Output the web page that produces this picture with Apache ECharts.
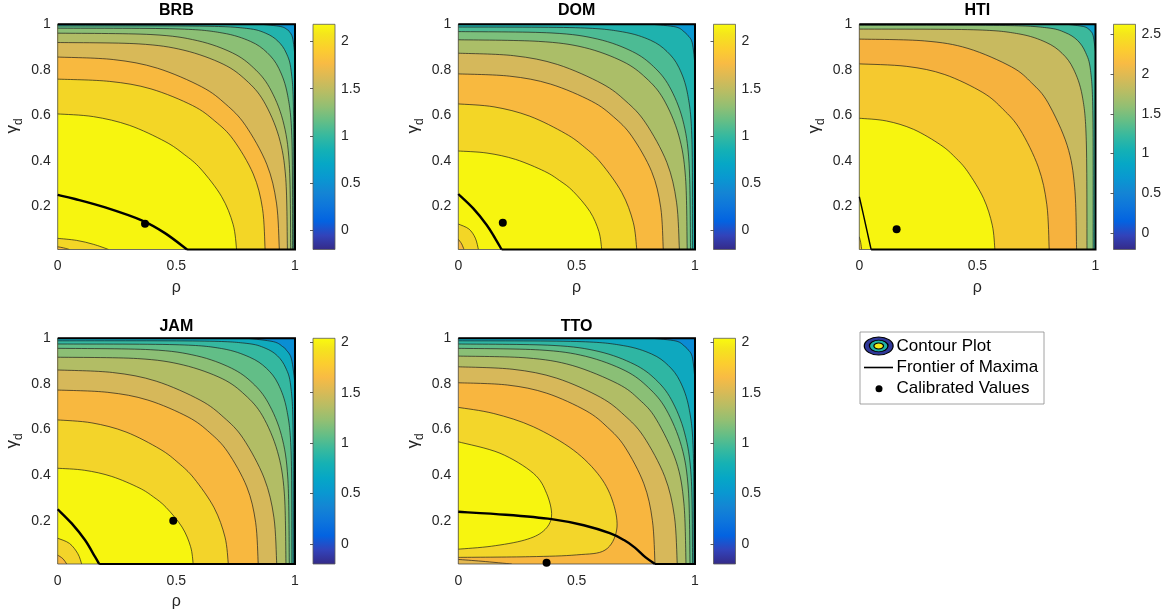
<!DOCTYPE html>
<html><head><meta charset="utf-8">
<script src="https://cdn.jsdelivr.net/npm/echarts@6/dist/echarts.min.js"></script>
<style>html,body{margin:0;padding:0;background:#fff}#c{width:1168px;height:611px}</style>
</head><body><div id="c"></div>
<script>
// ================= DATA =================
const countries = ['BRB', 'DOM', 'HTI', 'JAM', 'TTO'];
const xTicks = [0, 0.5, 1];
const yTicks = [0.2, 0.4, 0.6, 0.8, 1];
const Y_MIN = 0.01;
const cbarTicks = [0, 0.5, 1, 1.5, 2];
const cbarTicksHTI = [0, 0.5, 1, 1.5, 2, 2.5];
const cbarMin = [-0.2, -0.2, -0.21, -0.2, -0.2];
const cbarMax = [2.18, 2.18, 2.63, 2.04, 2.04];

// contour lines (rho, gamma_d); lower values toward (1,1)
const brbCurves = [
  [[0,0.606],[0.151,0.594],[0.302,0.556],[0.452,0.485],[0.533,0.428],[0.603,0.364],[0.691,0.242],[0.739,0.121],[0.754,0.01]],
  [[0,0.759],[0.219,0.749],[0.393,0.716],[0.568,0.643],[0.662,0.575],[0.74,0.493],[0.824,0.342],[0.863,0.19],[0.874,0.01]],
  [[0,0.856],[0.234,0.845],[0.42,0.807],[0.607,0.725],[0.708,0.649],[0.791,0.556],[0.881,0.385],[0.922,0.214],[0.934,0.01]],
  [[0,0.92],[0.339,0.914],[0.532,0.886],[0.697,0.825],[0.794,0.754],[0.868,0.662],[0.932,0.506],[0.961,0.322],[0.968,0.01]],
  [[0,0.961],[0.393,0.955],[0.589,0.928],[0.737,0.874],[0.826,0.808],[0.893,0.721],[0.949,0.577],[0.976,0.384],[0.982,0.01]],
  [[0,0.983],[0.495,0.98],[0.693,0.962],[0.812,0.925],[0.882,0.876],[0.932,0.806],[0.969,0.688],[0.987,0.492],[0.99,0.01]],
  [[0,0.993],[0.597,0.992],[0.796,0.982],[0.876,0.961],[0.928,0.926],[0.963,0.874],[0.984,0.794],[0.994,0.596],[0.995,0.01]]
];
const brbCorner = [
  [[0.86,1],[0.94,0.99],[0.968,0.976],[0.976,0.968],[0.99,0.94],[1,0.86]]
];
const brbOrigin = [
  [[0,0.059],[0.08,0.05],[0.15,0.033],[0.215,0.01]],
  [[0,0.022],[0.025,0.017],[0.05,0.01]]
];
const brbFrontier = [[0,0.25],[0.073,0.232],[0.2,0.195],[0.354,0.138],[0.452,0.082],[0.545,0.01]];
const brbPoint = [0.368, 0.123];

const domCurves = [
  [[0,0.443],[0.121,0.434],[0.242,0.406],[0.364,0.354],[0.428,0.313],[0.485,0.266],[0.556,0.177],[0.594,0.089],[0.606,0.01]],
  [[0,0.65],[0.151,0.637],[0.302,0.596],[0.452,0.52],[0.533,0.46],[0.603,0.39],[0.691,0.26],[0.739,0.13],[0.754,0.01]],
  [[0,0.782],[0.217,0.772],[0.39,0.737],[0.563,0.662],[0.656,0.593],[0.733,0.508],[0.817,0.352],[0.855,0.196],[0.866,0.01]],
  [[0,0.873],[0.234,0.862],[0.42,0.823],[0.607,0.739],[0.708,0.662],[0.791,0.567],[0.881,0.393],[0.922,0.218],[0.934,0.01]],
  [[0,0.932],[0.338,0.925],[0.532,0.898],[0.696,0.836],[0.793,0.764],[0.867,0.671],[0.931,0.513],[0.96,0.326],[0.967,0.01]],
  [[0,0.968],[0.392,0.962],[0.589,0.935],[0.736,0.88],[0.825,0.814],[0.892,0.726],[0.948,0.581],[0.975,0.387],[0.981,0.01]],
  [[0,0.988],[0.495,0.985],[0.693,0.967],[0.812,0.93],[0.882,0.88],[0.932,0.81],[0.969,0.692],[0.987,0.494],[0.99,0.01]]
];
const domCorner = [
  [[0.82,1],[0.92,0.988],[0.955,0.966],[0.966,0.955],[0.988,0.92],[1,0.82]]
];
const domOrigin = [
  [[0,0.122],[0.045,0.1],[0.072,0.06],[0.085,0.01]],
  [[0,0.055],[0.014,0.035],[0.024,0.01]]
];
const domFrontier = [[0,0.254],[0.063,0.191],[0.12,0.118],[0.155,0.06],[0.183,0.01]];
const domPoint = [0.188, 0.128];

const htiCurves = [
  [[0,0.587],[0.115,0.575],[0.23,0.538],[0.344,0.47],[0.406,0.415],[0.459,0.352],[0.526,0.235],[0.563,0.117],[0.574,0.01]],
  [[0,0.826],[0.201,0.815],[0.362,0.779],[0.523,0.70],[0.609,0.626],[0.681,0.537],[0.758,0.372],[0.794,0.207],[0.804,0.01]],
  [[0,0.935],[0.276,0.927],[0.46,0.894],[0.644,0.813],[0.73,0.742],[0.799,0.655],[0.88,0.468],[0.912,0.281],[0.92,0.01]],
  [[0,0.979],[0.482,0.976],[0.675,0.958],[0.79,0.921],[0.859,0.872],[0.907,0.803],[0.944,0.685],[0.961,0.488],[0.964,0.01]],
  [[0,0.996],[0.594,0.995],[0.792,0.985],[0.871,0.964],[0.924,0.929],[0.958,0.876],[0.979,0.797],[0.989,0.597],[0.99,0.01]]
];
const htiCorner = [
  [[0.88,1],[0.95,0.99],[0.972,0.978],[0.978,0.972],[0.99,0.95],[1,0.88]]
];
const htiOrigin = [
  [[0,0.066],[0.006,0.04],[0.01,0.01]]
];
const htiFrontier = [[0,0.242],[0.018,0.16],[0.034,0.085],[0.05,0.01]];
const htiPoint = [0.158, 0.099];

const jamCurves = [
  [[0,0.43],[0.114,0.421],[0.228,0.394],[0.343,0.344],[0.404,0.304],[0.457,0.258],[0.524,0.172],[0.56,0.086],[0.571,0.01]],
  [[0,0.642],[0.144,0.629],[0.288,0.589],[0.431,0.514],[0.508,0.454],[0.575,0.385],[0.659,0.257],[0.705,0.128],[0.719,0.01]],
  [[0,0.773],[0.211,0.763],[0.38,0.729],[0.549,0.655],[0.641,0.586],[0.716,0.502],[0.797,0.348],[0.834,0.193],[0.845,0.01]],
  [[0,0.861],[0.231,0.85],[0.415,0.812],[0.6,0.729],[0.70,0.653],[0.782,0.56],[0.87,0.387],[0.911,0.215],[0.923,0.01]],
  [[0,0.917],[0.337,0.911],[0.529,0.883],[0.693,0.823],[0.789,0.752],[0.863,0.66],[0.926,0.504],[0.955,0.321],[0.962,0.01]],
  [[0,0.956],[0.39,0.95],[0.586,0.923],[0.732,0.869],[0.821,0.804],[0.887,0.717],[0.943,0.574],[0.97,0.382],[0.976,0.01]],
  [[0,0.975],[0.494,0.972],[0.691,0.955],[0.809,0.917],[0.879,0.869],[0.929,0.80],[0.966,0.683],[0.984,0.488],[0.987,0.01]],
  [[0,0.989],[0.596,0.988],[0.794,0.978],[0.874,0.957],[0.926,0.923],[0.961,0.87],[0.982,0.791],[0.992,0.593],[0.993,0.01]]
];
const jamCorner = [
  [[0.8,1],[0.91,0.985],[0.95,0.962],[0.962,0.95],[0.985,0.91],[1,0.8]]
];
const jamOrigin = [
  [[0,0.123],[0.05,0.1],[0.085,0.055],[0.101,0.01]],
  [[0,0.049],[0.022,0.033],[0.038,0.01]]
];
const jamFrontier = [[0,0.25],[0.059,0.188],[0.115,0.115],[0.157,0.042],[0.175,0.01]];
const jamPoint = [0.487, 0.2];

const ttoCurves = [
  [[0,0.805],[0.208,0.795],[0.374,0.759],[0.54,0.682],[0.63,0.61],[0.704,0.523],[0.784,0.362],[0.82,0.201],[0.831,0.01]],
  [[0,0.875],[0.231,0.864],[0.416,0.825],[0.601,0.741],[0.701,0.663],[0.783,0.569],[0.872,0.394],[0.913,0.219],[0.925,0.01]],
  [[0,0.922],[0.289,0.914],[0.481,0.881],[0.673,0.801],[0.764,0.732],[0.836,0.645],[0.92,0.461],[0.953,0.277],[0.962,0.01]],
  [[0,0.956],[0.343,0.949],[0.538,0.921],[0.705,0.858],[0.803,0.784],[0.878,0.688],[0.943,0.526],[0.972,0.335],[0.979,0.01]],
  [[0,0.975],[0.396,0.969],[0.594,0.942],[0.743,0.886],[0.833,0.82],[0.90,0.731],[0.956,0.585],[0.984,0.39],[0.99,0.01]],
  [[0,0.989],[0.498,0.986],[0.697,0.968],[0.817,0.931],[0.887,0.881],[0.937,0.811],[0.975,0.692],[0.993,0.495],[0.996,0.01]]
];
const ttoCorner = [
  [[0.82,1],[0.92,0.988],[0.955,0.966],[0.966,0.955],[0.988,0.92],[1,0.82]]
];
// closed lobes against the left edge (higher values inside)
const ttoLobes = [
  [[0,0.697],[0.15,0.67],[0.317,0.612],[0.486,0.51],[0.599,0.393],[0.655,0.276],[0.669,0.159],[0.62,0.071],[0.5,0.05],[0.3,0.042],[0,0.039]],
  [[0,0.546],[0.176,0.496],[0.317,0.408],[0.373,0.32],[0.394,0.22],[0.36,0.155],[0.28,0.115],[0.14,0.088],[0,0.075]]
];
const ttoOrigin = [
  [[0,0.03],[0.1,0.022],[0.226,0.01]]
];
const ttoFrontier = [[0,0.239],[0.2,0.226],[0.394,0.207],[0.53,0.18],[0.64,0.145],[0.70,0.115],[0.746,0.082],[0.79,0.04],[0.831,0.01]];
const ttoPoint = [0.373, 0.016];

const legendLabels = ['Contour Plot', 'Frontier of Maxima', 'Calibrated Values'];

// ================= STYLE / LAYOUT =================
const FONT = '"Liberation Sans", Arial, Helvetica, sans-serif';
const TXT = '#262626';
const PARULA = ['#352a87','#3243ba','#0363e1','#0d75dc','#1485d4','#0998d1','#06a7c6','#15b1b4','#38b99e','#65be86','#92bf73','#b7bd64','#d9ba56','#f8bb44','#fcce2e','#f5e41d','#f9fb0e'];
const PARULA_IDX = [0,4,8,12,16,20,24,28,32,36,40,44,48,52,56,60,63];

const plotLeft = [57.7, 458.3, 859.3, 57.7, 458.3];
const plotTop = [24.3, 24.3, 24.3, 338.3, 338.3];
const plotW = [237.3, 236.7, 236.2, 237.3, 236.7];
const plotH = [225.2, 225.2, 225.2, 225.7, 225.7];
const cbarLeft = [313, 713.5, 1113.5, 313, 713.5];
const cbarW = 22;

const YEL = '#f7f50f';
const baseFill = [YEL, YEL, YEL, YEL, '#f8b63f'];
const curveFill = [
  ['#f3d626','#f8b93f','#d8b958','#b1bd66','#8cbf75','#5fbd88','#22b3ad'],
  ['#f3d626','#f8b93f','#d5b85b','#abbe68','#7cc07c','#4cbb94','#1fb2ae'],
  ['#f5c92f','#f6b23e','#c8ba5f','#8fc074','#3cb99c'],
  ['#f3d42a','#f8b83f','#d6b85a','#b2bd65','#8cbf75','#62be87','#35b8a0','#10aabc'],
  ['#d7b85a','#b1bd66','#8abf76','#5ebd88','#2fb6a3','#0ea8bf']
];
const cornerFill = [['#0b97d2'], ['#0a98d1'], ['#0ea2c9'], ['#0a8ed4'], ['#0b8bd5']];
const originFill = [['#f3d626','#f8b93f'], ['#f3d626','#f8b93f'], ['#f5c92f'], ['#f3d42a','#f8b83f'], ['#e4b850']];
const lobeFill = [[], [], [], [], ['#f3d62a', YEL]];
const frontierWidth = [2.4, 2.4, 1.4, 2.4, 2.4];

const curvesAll = [brbCurves, domCurves, htiCurves, jamCurves, ttoCurves];
const cornerAll = [brbCorner, domCorner, htiCorner, jamCorner, ttoCorner];
const originAll = [brbOrigin, domOrigin, htiOrigin, jamOrigin, ttoOrigin];
const lobesAll = [[], [], [], [], ttoLobes];
const frontierAll = [brbFrontier, domFrontier, htiFrontier, jamFrontier, ttoFrontier];
const pointAll = [brbPoint, domPoint, htiPoint, jamPoint, ttoPoint];

function f(v) { return v.toFixed(2); }
function splinePath(P) {
  let d = 'M' + f(P[0][0]) + ' ' + f(P[0][1]);
  for (let i = 0; i < P.length - 1; i++) {
    const p0 = P[i - 1] || P[i], p1 = P[i], p2 = P[i + 1], p3 = P[i + 2] || P[i + 1];
    const c1x = p1[0] + (p2[0] - p0[0]) / 6, c1y = p1[1] + (p2[1] - p0[1]) / 6;
    const c2x = p2[0] - (p3[0] - p1[0]) / 6, c2y = p2[1] - (p3[1] - p1[1]) / 6;
    d += ' C' + f(c1x) + ' ' + f(c1y) + ' ' + f(c2x) + ' ' + f(c2y) + ' ' + f(p2[0]) + ' ' + f(p2[1]);
  }
  return d;
}

function buildItems(k) {
  const list = [{ kind: 'base', fill: baseFill[k] }];
  curvesAll[k].forEach((c, i) => list.push({ kind: 'tr', pts: c, fill: curveFill[k][i] }));
  cornerAll[k].forEach((c, i) => list.push({ kind: 'c', pts: c, fill: cornerFill[k][i] }));
  lobesAll[k].forEach((c, i) => list.push({ kind: 'l', pts: c, fill: lobeFill[k][i] }));
  originAll[k].forEach((c, i) => list.push({ kind: 'bl', pts: c, fill: originFill[k][i] }));
  return list;
}

function contourRenderer(items) {
  return function (params, api) {
    const it = items[params.dataIndex];
    const cs = params.coordSys;
    if (it.kind === 'base') {
      return { type: 'rect', shape: { x: cs.x, y: cs.y, width: cs.width, height: cs.height }, style: { fill: it.fill } };
    }
    const P = it.pts.map(p => api.coord(p));
    const d = splinePath(P);
    let close = '';
    const add = c => { const q = api.coord(c); close += ' L' + f(q[0]) + ' ' + f(q[1]); };
    if (it.kind === 'tr') { add([1, Y_MIN]); add([1, 1]); add([0, 1]); }
    if (it.kind === 'c') { add([1, 1]); }
    if (it.kind === 'bl') { add([0, Y_MIN]); }
    close += ' Z';
    return { type: 'group', children: [
      { type: 'path', shape: { pathData: d + close }, style: { fill: it.fill, stroke: 'none' } },
      { type: 'path', shape: { pathData: d }, style: { fill: 'none', stroke: '#1a1a1a', lineWidth: 0.75, opacity: 0.9 } }
    ] };
  };
}

function frontierRenderer(k) {
  return function (params, api) {
    const cs = params.coordSys;
    const P = frontierAll[k].map(p => api.coord(p));
    const last = P[P.length - 1];
    const q1 = api.coord([1, Y_MIN]), q2 = api.coord([1, 1]), q3 = api.coord([0, 1]);
    const edge = 'M' + f(last[0]) + ' ' + f(last[1]) + ' L' + f(q1[0]) + ' ' + f(q1[1]) + ' L' + f(q2[0]) + ' ' + f(q2[1]) + ' L' + f(q3[0]) + ' ' + f(q3[1]);
    return { type: 'group', children: [
      { type: 'rect', shape: { x: cs.x, y: cs.y, width: cs.width, height: cs.height }, style: { fill: 'none', stroke: '#4a4a4a', lineWidth: 0.8 } },
      { type: 'path', shape: { pathData: edge }, style: { fill: 'none', stroke: '#000', lineWidth: 2 } },
      { type: 'path', shape: { pathData: splinePath(P) }, style: { fill: 'none', stroke: '#000', lineWidth: frontierWidth[k] } }
    ] };
  };
}

function cbarRenderer(k) {
  return function (params, api) {
    const a = api.coord([0, cbarMax[k]]), b = api.coord([1, cbarMin[k]]);
    const stops = PARULA.map((c, i) => ({ offset: PARULA_IDX[i] / 63, color: c }));
    return { type: 'rect', shape: { x: a[0], y: a[1], width: b[0] - a[0], height: b[1] - a[1] },
      style: { fill: new echarts.graphic.LinearGradient(0, 1, 0, 0, stops), stroke: '#5a5a5a', lineWidth: 0.8 } };
  };
}

const labelStyle = { fontSize: 14, color: TXT, fontFamily: FONT };
const option = { animation: false, backgroundColor: '#fff', grid: [], xAxis: [], yAxis: [], series: [], graphic: [] };

for (let k = 0; k < 5; k++) {
  const gp = 2 * k, gc = 2 * k + 1;
  option.grid.push({ left: plotLeft[k], top: plotTop[k], width: plotW[k], height: plotH[k], containLabel: false, outerBoundsMode: 'none' });
  option.grid.push({ left: cbarLeft[k], top: plotTop[k], width: cbarW, height: plotH[k], containLabel: false, outerBoundsMode: 'none' });
  option.xAxis.push({ gridIndex: gp, type: 'value', min: xTicks[0], max: xTicks[xTicks.length - 1], interval: 0.5,
    axisLine: { show: false }, axisTick: { show: false }, splitLine: { show: false },
    axisLabel: Object.assign({ margin: 10 }, labelStyle) });
  option.yAxis.push({ gridIndex: gp, type: 'value', min: Y_MIN, max: 1,
    axisLine: { show: false }, axisTick: { show: false }, splitLine: { show: false },
    axisLabel: Object.assign({ margin: 7, customValues: yTicks, formatter: v => String(+(+v).toFixed(2)) }, labelStyle) });
  const ct = k === 2 ? cbarTicksHTI : cbarTicks;
  option.xAxis.push({ gridIndex: gc, type: 'value', min: 0, max: 1, show: false });
  option.yAxis.push({ gridIndex: gc, type: 'value', position: 'right', min: cbarMin[k], max: cbarMax[k], z: 10,
    axisLine: { show: false }, splitLine: { show: false },
    axisTick: { show: true, inside: true, length: 3, customValues: ct, lineStyle: { color: '#333', width: 0.8 } },
    axisLabel: Object.assign({ margin: 6, customValues: ct, formatter: v => String(+(+v).toFixed(2)) }, labelStyle) });

  const items = buildItems(k);
  option.series.push({ type: 'custom', name: countries[k] + ' contours', xAxisIndex: gp, yAxisIndex: gp, z: 2, silent: true, clip: true,
    renderItem: contourRenderer(items), data: items.map(() => [0.5, 0.5]) });
  option.series.push({ type: 'custom', name: countries[k] + ' frontier', xAxisIndex: gp, yAxisIndex: gp, z: 3, silent: true,
    renderItem: frontierRenderer(k), data: [[0.5, 0.5]] });
  option.series.push({ type: 'scatter', name: countries[k] + ' calibrated', xAxisIndex: gp, yAxisIndex: gp, z: 4, silent: true,
    symbolSize: 8, itemStyle: { color: '#000', opacity: 1 }, data: [pointAll[k]] });
  option.series.push({ type: 'custom', name: countries[k] + ' colorbar', xAxisIndex: gc, yAxisIndex: gc, z: 2, silent: true,
    renderItem: cbarRenderer(k), data: [[0.5, 0.5]] });

  const cx = plotLeft[k] + plotW[k] / 2;
  const row2 = k >= 3;
  option.graphic.push({ type: 'text', x: cx, y: row2 ? 327 : 11,
    style: { text: countries[k], fontSize: 16, fontWeight: 'bold', fontFamily: FONT, fill: '#000', align: 'center', verticalAlign: 'middle', textAlign: 'center', textVerticalAlign: 'middle' } });
  if (k !== 4) {
    option.graphic.push({ type: 'text', x: cx, y: row2 ? 602 : 288,
      style: { text: 'ρ', fontSize: 16, fontFamily: FONT, fill: TXT, align: 'center', verticalAlign: 'middle', textAlign: 'center', textVerticalAlign: 'middle' } });
  }
  option.graphic.push({ type: 'text', x: plotLeft[k] - 45, y: row2 ? 441 : 126, rotation: Math.PI / 2,
    style: { text: '{g|γ}{s|d}', align: 'center', verticalAlign: 'middle', textAlign: 'center', textVerticalAlign: 'middle',
      rich: { g: { fontSize: 17, fontFamily: FONT, fill: TXT, lineHeight: 24, verticalAlign: 'middle' },
              s: { fontSize: 12, fontFamily: FONT, fill: TXT, verticalAlign: 'bottom' } } } });
}

// legend box
const LX = 860, LY = 332;
option.graphic.push({ type: 'rect', shape: { x: LX, y: LY, width: 184, height: 72 }, style: { fill: '#fff', stroke: '#8a8a8a', lineWidth: 0.8 } });
option.graphic.push({ type: 'circle', x: 878.7, y: 346, scaleX: 1.6, scaleY: 1, shape: { cx: 0, cy: 0, r: 9 }, style: { fill: '#30389a', stroke: '#000', lineWidth: 0.8, strokeNoScale: true } });
option.graphic.push({ type: 'circle', x: 878.7, y: 346, scaleX: 1.6, scaleY: 1, shape: { cx: 0, cy: 0, r: 5.8 }, style: { fill: '#21b3a5', stroke: '#000', lineWidth: 0.8, strokeNoScale: true } });
option.graphic.push({ type: 'circle', x: 878.7, y: 346, scaleX: 1.6, scaleY: 1, shape: { cx: 0, cy: 0, r: 3 }, style: { fill: '#f2ee1a', stroke: '#000', lineWidth: 0.8, strokeNoScale: true } });
option.graphic.push({ type: 'line', shape: { x1: 864, y1: 367.5, x2: 893, y2: 367.5 }, style: { stroke: '#000', lineWidth: 1.6 } });
option.graphic.push({ type: 'circle', shape: { cx: 879, cy: 388.7, r: 3.5 }, style: { fill: '#000' } });
legendLabels.forEach((t, i) => {
  option.graphic.push({ type: 'text', x: 896.5, y: 346.7 + 21 * i,
    style: { text: t, fontSize: 17, fontFamily: FONT, fill: '#000', align: 'left', verticalAlign: 'middle', textAlign: 'left', textVerticalAlign: 'middle' } });
});

const chart = echarts.init(document.getElementById('c'), null, { renderer: 'canvas' });
chart.setOption(option);
</script></body></html>
